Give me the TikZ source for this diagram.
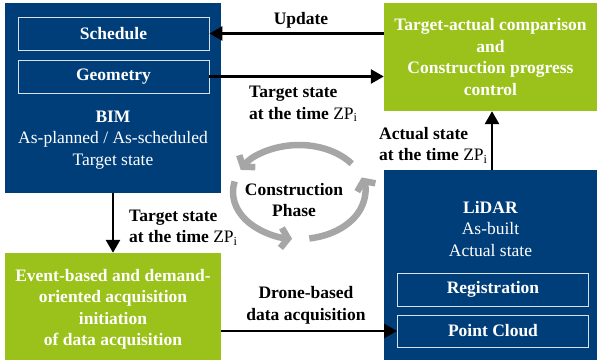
\documentclass[tikz,border=0pt]{standalone}
\usepackage{fontspec}
\setmainfont{Liberation Serif}
\usepackage{tikz}
\usepackage{xcolor}
\usetikzlibrary{shapes,arrows.meta}

\definecolor{bimblue}{RGB}{0,62,122}
\definecolor{ctrlgreen}{RGB}{155,194,26}
\definecolor{cyclegray}{RGB}{166,166,166}

\newcommand{\zpi}{\textmd{ZP\textsubscript{i}}}

\begin{document}
\begin{tikzpicture}[x=1pt,y=-1pt,font=\fontsize{17.5}{21.5}\selectfont]
\tikzstyle{outer blue} = [rectangle, fill=bimblue, inner sep=0pt]
\tikzstyle{outer green} = [rectangle, fill=ctrlgreen, inner sep=0pt, text=white, font=\fontsize{17.5}{21.5}\selectfont\bfseries, align=center]
\tikzstyle{inner box} = [rectangle, draw=white!85!bimblue, line width=0.8pt, text=white, font=\fontsize{17.5}{21.5}\selectfont\bfseries, minimum width=191pt, minimum height=33pt, inner sep=0pt]
\tikzstyle{flow} = [line width=2.6pt, -{Triangle[length=13pt,width=14pt]}]
\tikzstyle{cycle} = [cyclegray, line width=6.5pt, -{Straight Barb[length=7pt,width=20pt]}]
\tikzstyle{label} = [align=left, font=\fontsize{17.5}{21.5}\selectfont\bfseries, inner sep=0pt]
\useasboundingbox (0,0) rectangle (597,363);

% BIM
\node[outer blue, minimum width=216pt, minimum height=190pt] (bim) at (113,98) {};
\node[inner box] (schedule) at (113.5,33.5) {Schedule};
\node[inner box] (geometry) at (113.5,76.5) {Geometry};
\node[text=white, align=center, inner sep=0pt] (bimtext) at (113,140)
	{\textbf{BIM}\\As-planned / As-scheduled\\Target state};

% comparison
\node[outer green, minimum width=213pt, minimum height=108pt] (compare) at (490.5,57)
	{Target-actual comparison\\and\\Construction progress\\control};

% LiDAR
\node[outer blue, minimum width=213pt, minimum height=190pt] (lidar) at (490.5,265) {};
\node[text=white, align=center, inner sep=0pt] (lidartext) at (490.5,229)
	{\textbf{LiDAR}\\As-built\\Actual state};
\node[inner box] (registration) at (493,289.5) {Registration};
\node[inner box, minimum height=32pt] (cloud) at (493,331) {Point Cloud};

% acquisition
\node[outer green, minimum width=216pt, minimum height=107pt] (acquisition) at (113,306.5) {};
\node[outer green, fill=none] (acqtext) at (113,309.5)
	{Event-based and demand-\\oriented acquisition\\initiation\\of data acquisition};

% connectors
\draw[flow] (compare.west |- schedule) -- (schedule.east);
\draw[flow] (geometry.east) -- (compare.west |- geometry);
\draw[flow] (bim.south) -- (acquisition.north);
\draw[flow] (acquisition.east |- cloud) -- (cloud.west);
\draw[flow] (lidar.north -| 492,0) -- (compare.south -| 492,0);

\node[label] (update) at (301,20) {Update};
\node[label, anchor=west] (targetlabel) at (249,104) {Target state\\at the time \zpi};
\node[label, anchor=west] (downlabel) at (129,227.5) {Target state\\at the time \zpi};
\node[label, anchor=west] (actuallabel) at (379,145) {Actual state\\at the time \zpi};
\node[label, align=center] (dronelabel) at (306,305.5) {Drone-based\\data acquisition};

% construction phase
\coordinate (phase) at (299,192);
\draw[cycle] (phase) ++(37:66pt and 47pt) arc[start angle=37, end angle=152, x radius=66pt, y radius=47pt];
\draw[cycle] (phase) ++(167:66pt and 47pt) arc[start angle=167, end angle=264, x radius=66pt, y radius=47pt];
\draw[cycle] (phase) ++(279:66pt and 47pt) arc[start angle=279, end angle=378, x radius=66pt, y radius=47pt];
\node[label, align=center] (phasetext) at (294,200) {Construction\\Phase};
\end{tikzpicture}
\end{document}
